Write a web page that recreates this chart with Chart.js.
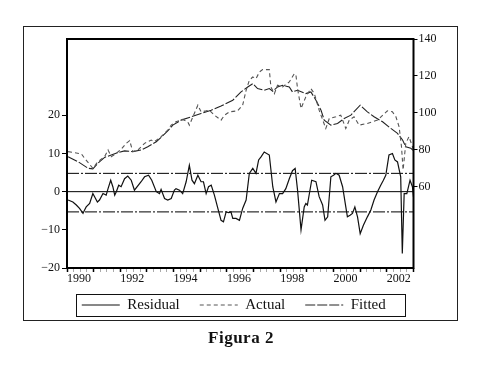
<!DOCTYPE html>
<html>
<head>
<meta charset="utf-8">
<script src="https://cdn.jsdelivr.net/npm/chart.js@4.4.0/dist/chart.umd.min.js"></script>
<style>
  html, body { margin: 0; padding: 0; background: #fff; }
  #wrap { position: relative; width: 482px; height: 376px; }
  #frame { position: absolute; left: 23px; top: 26px; width: 433px; height: 293px; border: 1px solid #222; }
  canvas { position: absolute; left: 0; top: 0; }
  #caption { position: absolute; left: 0; top: 329px; width: 482px; text-align: center;
             font: bold 17px 'Liberation Serif', serif; letter-spacing: 0.5px; line-height: 17px; color: #111; }
</style>
</head>
<body>
<div id="wrap">
  <div id="frame"></div>
  <canvas id="chart" width="482" height="376"></canvas>
  <div id="caption">Figura 2</div>
</div>
<script>
// tick labels
const yearLabels = [1990, 1992, 1994, 1996, 1998, 2000, 2002];
const leftTicks = [-20, -10, 0, 10, 20];
const rightTicks = [60, 80, 100, 120, 140];

// +/- 1 standard error band of the residual
const seUpper = 4.8;
const seLower = -5.3;

// [year, value]
const residual = [
  [1990.04,-2.2],[1990.22,-2.7],[1990.35,-3.5],[1990.47,-4.4],[1990.60,-5.7],[1990.66,-4.8],[1990.72,-4.0],
  [1990.85,-3.1],[1990.97,-0.5],[1991.04,-1.4],[1991.14,-2.7],[1991.22,-2.2],[1991.35,-0.5],[1991.47,-0.9],
  [1991.54,0.8],[1991.64,3.0],[1991.72,1.3],[1991.79,-0.9],[1991.85,0.0],[1991.94,1.7],[1992.03,1.3],
  [1992.16,3.4],[1992.28,4.1],[1992.41,3.0],[1992.53,0.4],[1992.78,2.6],[1992.91,3.9],[1993.06,4.3],
  [1993.18,3.0],[1993.35,0.0],[1993.47,-0.5],[1993.53,0.6],[1993.66,-1.8],[1993.78,-2.2],[1993.91,-1.8],
  [1994.03,0.4],[1994.09,0.8],[1994.22,0.4],[1994.34,-0.5],[1994.47,2.6],[1994.59,6.9],[1994.69,3.0],
  [1994.78,2.1],[1994.91,4.3],[1995.03,2.6],[1995.12,2.6],[1995.22,-0.5],[1995.31,1.3],[1995.41,1.7],
  [1995.53,-0.9],[1995.66,-4.4],[1995.78,-7.5],[1995.87,-7.9],[1995.97,-5.3],[1996.07,-5.5],[1996.15,-5.3],
  [1996.22,-7.0],[1996.34,-7.0],[1996.47,-7.5],[1996.59,-4.4],[1996.72,-2.2],[1996.84,4.8],[1996.97,6.1],
  [1997.09,4.8],[1997.19,8.3],[1997.28,9.1],[1997.40,10.4],[1997.59,9.6],[1997.72,1.3],[1997.84,-2.7],
  [1997.97,-0.5],[1998.09,-0.5],[1998.21,0.8],[1998.34,3.4],[1998.46,5.5],[1998.56,6.1],[1998.65,0.4],
  [1998.78,-10.0],[1998.90,-4.0],[1998.96,-3.1],[1999.02,-3.5],[1999.18,3.0],[1999.34,2.6],[1999.46,-1.3],
  [1999.59,-3.5],[1999.68,-7.5],[1999.78,-6.6],[1999.90,3.9],[2000.00,4.3],[2000.09,4.8],[2000.21,4.3],
  [2000.34,1.3],[2000.46,-4.0],[2000.52,-6.6],[2000.62,-6.2],[2000.71,-5.7],[2000.80,-4.0],[2000.90,-6.6],
  [2001.00,-11.0],[2001.12,-8.8],[2001.27,-6.6],[2001.40,-4.8],[2001.52,-2.2],[2001.65,0.0],[2001.77,1.7],
  [2001.87,3.0],[2001.96,4.3],[2002.08,9.6],[2002.21,10.0],[2002.30,8.3],[2002.40,7.8],[2002.52,3.9],
  [2002.58,-16.2],[2002.65,-0.5],[2002.75,-0.5],[2002.87,3.0],[2002.96,1.3],[2003.00,-1.4]
];

const actual = [
  [1990.04,78.9],[1990.54,77.7],[1990.66,75.3],[1990.97,69.9],[1991.16,73.5],[1991.41,76.2],[1991.54,79.8],
  [1991.66,76.2],[1991.85,78.0],[1992.03,80.2],[1992.22,83.4],[1992.35,84.9],[1992.47,78.9],[1992.66,79.8],
  [1992.91,83.4],[1993.16,85.2],[1993.28,84.3],[1993.53,87.0],[1993.78,90.6],[1993.91,93.3],[1994.09,95.1],
  [1994.34,96.4],[1994.53,95.1],[1994.59,93.3],[1994.91,104.1],[1995.03,100.5],[1995.22,101.0],[1995.34,101.4],
  [1995.53,98.7],[1995.78,96.0],[1995.91,98.7],[1996.09,100.5],[1996.40,101.0],[1996.59,104.1],[1996.72,112.2],
  [1996.84,117.6],[1996.97,119.4],[1997.09,118.5],[1997.22,122.1],[1997.34,123.4],[1997.59,123.4],[1997.65,114.0],
  [1997.78,110.4],[1997.90,114.9],[1998.09,114.0],[1998.34,116.7],[1998.53,121.2],[1998.59,120.3],[1998.65,113.1],
  [1998.78,102.3],[1998.96,108.6],[1999.15,113.1],[1999.28,110.4],[1999.46,101.4],[1999.71,91.5],[1999.84,96.9],
  [2000.09,97.8],[2000.27,98.7],[2000.46,91.5],[2000.59,96.0],[2000.77,97.8],[2000.96,93.3],[2001.27,94.2],
  [2001.65,96.0],[2002.02,101.0],[2002.21,100.5],[2002.34,97.8],[2002.46,92.4],[2002.55,81.6],[2002.61,69.0],
  [2002.71,83.4],[2002.83,87.0],[2002.96,81.6],[2003.00,78.9]
];

const fitted = [
  [1990.04,76.2],[1990.41,73.5],[1990.79,69.9],[1990.97,69.6],[1991.16,72.6],[1991.41,75.8],[1991.66,77.1],
  [1991.91,78.4],[1992.16,79.3],[1992.47,78.9],[1992.78,79.8],[1993.03,81.6],[1993.35,84.3],[1993.53,86.6],
  [1993.78,90.2],[1993.97,93.3],[1994.28,96.0],[1994.66,97.8],[1995.03,99.6],[1995.41,101.4],[1995.78,103.6],
  [1996.22,106.8],[1996.53,111.3],[1996.78,114.0],[1996.97,115.8],[1997.15,113.1],[1997.40,112.2],[1997.59,113.1],
  [1997.72,111.7],[1997.90,114.0],[1998.09,114.9],[1998.34,114.0],[1998.46,111.3],[1998.65,112.2],[1998.96,110.4],
  [1999.15,111.3],[1999.34,106.8],[1999.53,101.4],[1999.65,96.0],[1999.90,93.3],[2000.15,94.2],[2000.40,96.9],
  [2000.65,98.7],[2001.00,104.1],[2001.27,100.5],[2001.52,97.8],[2001.84,95.1],[2002.15,91.5],[2002.40,88.8],
  [2002.59,85.2],[2002.71,81.6],[2002.90,80.7],[2003.00,79.5]
];

const toPoints = arr => arr.map(([x, y]) => ({ x, y }));
const flat = v => [{ x: 1990, y: v }, { x: 2003, y: v }];

const frame = {
  id: 'frame',
  afterDatasetsDraw(chart) {
    const { ctx, chartArea: a } = chart;
    ctx.save();
    ctx.strokeStyle = '#000';
    ctx.lineWidth = 2;
    ctx.strokeRect(a.left, a.top, a.right - a.left, a.bottom - a.top);
    ctx.restore();
  },
  afterDraw(chart) {
    // box around the legend row
    const hb = chart.legend.legendHitBoxes;
    if (!hb || !hb.length) return;
    const last = hb[hb.length - 1];
    const ctx = chart.ctx;
    ctx.save();
    ctx.strokeStyle = '#111';
    ctx.lineWidth = 1;
    const l = Math.round(hb[0].left - 6) + 0.5;
    const r = Math.round(last.left + last.width + 7) + 0.5;
    const t = Math.round(hb[0].top - 3.5) + 0.5;
    const b = Math.round(hb[0].top + hb[0].height + 3.5) + 0.5;
    ctx.strokeRect(l, t, r - l, b - t);
    ctx.restore();
  }
};

Chart.defaults.font.family = "'Liberation Serif', serif";
Chart.defaults.color = '#111';

const baseLabels = Chart.defaults.plugins.legend.labels.generateLabels;

new Chart(document.getElementById('chart'), {
  type: 'line',
  data: {
    datasets: [
      { label: 'Residual', data: toPoints(residual), yAxisID: 'yL',
        borderColor: '#111', borderWidth: 1.2 },
      { label: 'Actual', data: toPoints(actual), yAxisID: 'yR',
        borderColor: '#555', borderWidth: 1.1, borderDash: [4, 3] },
      { label: 'Fitted', data: toPoints(fitted), yAxisID: 'yR',
        borderColor: '#222', borderWidth: 1.1, borderDash: [10, 2] },
      { label: 'zero', data: flat(0), yAxisID: 'yL', borderColor: '#000', borderWidth: 1 },
      { label: 'se+', data: flat(seUpper), yAxisID: 'yL', borderColor: '#000', borderWidth: 1, borderDash: [12, 2, 2, 2] },
      { label: 'se-', data: flat(seLower), yAxisID: 'yL', borderColor: '#000', borderWidth: 1, borderDash: [12, 2, 2, 2] }
    ]
  },
  options: {
    responsive: false,
    animation: false,
    elements: { point: { radius: 0 }, line: { tension: 0, fill: false } },
    layout: { padding: { left: 0, right: 2, top: 39, bottom: 53.5 } },
    plugins: {
      tooltip: { enabled: false },
      legend: {
        position: 'bottom',
        labels: {
          // take the line style from the dataset; trailing spaces widen the gap between items
          generateLabels: chart => baseLabels(chart).map(l => {
            const ds = chart.data.datasets[l.datasetIndex];
            return { ...l, text: l.text + '\u2002\u2006\u2006', strokeStyle: ds.borderColor,
                     lineWidth: 1, lineDash: ds.borderDash || [] };
          }),
          filter: item => item.datasetIndex < 3,
          usePointStyle: true,
          pointStyle: 'line',
          pointStyleWidth: 38,
          padding: 7.5,
          color: '#111',
          font: { size: 15 }
        }
      }
    },
    scales: {
      x: {
        type: 'linear', min: 1990, max: 2003,
        afterBuildTicks: s => {
          const t = [];
          for (let q = 1990 * 4; q <= 2003 * 4; q++) t.push({ value: q / 4 });
          s.ticks = t;
        },
        afterFit: s => { s.height = 22; },
        border: { display: false },
        grid: {
          drawOnChartArea: false, tickLength: 4,
          tickColor: c => (c.tick && Number.isInteger(c.tick.value)) ? '#000' : '#aaa',
          tickWidth: c => (c.tick && Number.isInteger(c.tick.value)) ? 1.5 : 1
        },
        ticks: {
          autoSkip: false, maxRotation: 0, align: 'start', padding: 0,
          font: { size: 12 }, color: '#111',
          callback: v => yearLabels.includes(v) ? String(v) : ''
        }
      },
      yL: {
        position: 'left', min: -20, max: 40,
        afterBuildTicks: s => { s.ticks = leftTicks.map(v => ({ value: v })); },
        afterFit: s => { s.width = 67; },
        border: { display: false },
        grid: { drawOnChartArea: false, tickLength: 5, tickColor: '#000' },
        ticks: {
          padding: 2, font: { size: 12 }, color: '#111',
          callback: v => v < 0 ? '\u2212' + Math.abs(v) : String(v)
        }
      },
      yR: {
        position: 'right', min: 15.8, max: 140,
        afterBuildTicks: s => { s.ticks = rightTicks.map(v => ({ value: v })); },
        afterFit: s => { s.width = 66.5; },
        border: { display: false },
        grid: { drawOnChartArea: false, tickLength: 4, tickColor: '#000' },
        ticks: { padding: 1, font: { size: 12 }, color: '#111' }
      }
    }
  },
  plugins: [frame]
});
</script>
</body>
</html>
